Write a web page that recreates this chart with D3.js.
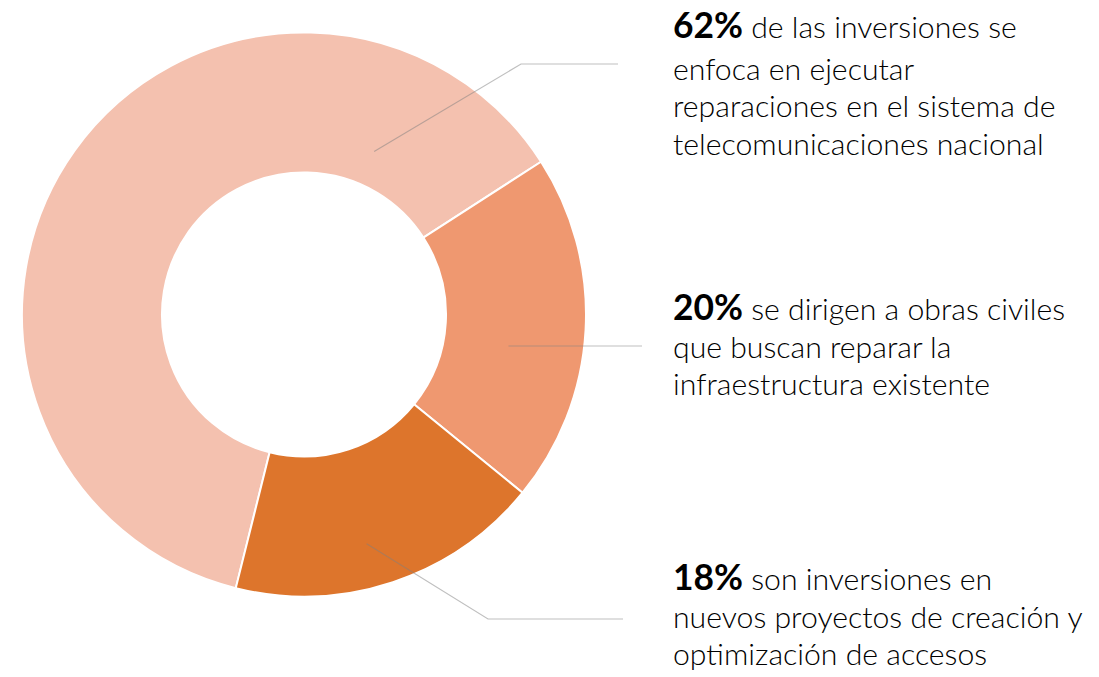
<!DOCTYPE html>
<html>
<head>
<meta charset="utf-8">
<script src="https://cdn.jsdelivr.net/npm/d3@7"></script>
<style>
  html, body { margin: 0; padding: 0; background: #ffffff; }
  svg { display: block; }
</style>
</head>
<body>
<svg id="chart" width="1099" height="677"></svg>
<script>
// ---- data ----
const categories = ["reparaciones", "obras civiles", "nuevos proyectos"];
const values = [62, 20, 18];
const percentLabels = ["62%", "20%", "18%"];
const descriptions = [
  ["de las inversiones se", "enfoca en ejecutar", "reparaciones en el sistema de", "telecomunicaciones nacional"],
  ["se dirigen a obras civiles", "que buscan reparar la", "infraestructura existente"],
  ["son inversiones en", "nuevos proyectos de creación y", "optimización de accesos"]
];
const colors = ["#F4C1AF", "#EF9870", "#DD752C"];

// ---- layout ----
const W = 1099, H = 677;
const cx = 304, cy = 314.5;
const outerR = 282, innerR = 142;
const deg = Math.PI / 180;
const startA = -166 * deg;

const svg = d3.select("#chart");
const g = svg.append("g").attr("transform", `translate(${cx},${cy})`);

const pie = d3.pie().sort(null).value(d => d).startAngle(startA).endAngle(startA + 2 * Math.PI);
const arc = d3.arc().innerRadius(innerR).outerRadius(outerR);
const arcs = pie(values);

g.selectAll("path.slice")
  .data(arcs)
  .join("path")
  .attr("class", "slice")
  .attr("d", arc)
  .attr("fill", (d, i) => colors[i])
  .attr("stroke", "#ffffff")
  .attr("stroke-width", 2)
  .attr("stroke-linejoin", "round");

// leader lines (anchor inside slice as fraction through slice span)
const anchorFrac = [0.848, 0.578, 0.548];
const anchorRad = [177.5, 207, 237.6];
const elbows = [[521, 64], null, [488, 619]];
const lineEndX = [618, 642, 623];
const lineY = [64, 346, 619];

const leaderData = arcs.map((a, i) => {
  const ang = a.startAngle + (a.endAngle - a.startAngle) * anchorFrac[i];
  const p = d3.pointRadial(ang, anchorRad[i]);
  const start = [cx + p[0], cy + p[1]];
  const pts = [start];
  if (elbows[i]) pts.push(elbows[i]); else pts[0] = [start[0], lineY[i]];
  pts.push([lineEndX[i], lineY[i]]);
  return pts;
});

svg.selectAll("path.leader")
  .data(leaderData)
  .join("path")
  .attr("class", "leader")
  .attr("d", d => d3.line()(d))
  .attr("fill", "none")
  .attr("stroke", "#808080")
  .attr("stroke-opacity", 0.5)
  .attr("stroke-width", 1.1);

// labels
const textX = 673;
const firstBaseline = [38, 320, 590];
const lineH = 37.5;
const font = "Lato, 'Open Sans', sans-serif";
const bodyWeight = 300, pctWeight = 700;

// fit body font size so a reference line matches its measured width
function measure(str, weight) {
  const t = svg.append("text").attr("font-family", font).attr("font-size", 100)
    .attr("font-weight", weight).text(str);
  const w = t.node().getComputedTextLength();
  t.remove();
  return w;
}
const bodySize = 100 * 371 / measure("telecomunicaciones nacional", bodyWeight);
const pctSize = 100 * 70 / measure("62%", pctWeight);

percentLabels.forEach((pl, i) => {
  const t = svg.append("text")
    .attr("x", textX)
    .attr("y", firstBaseline[i])
    .attr("font-family", font)
    .attr("fill", "#000");
  t.append("tspan")
    .attr("font-size", pctSize)
    .attr("font-weight", pctWeight)
    .text(pl);
  t.append("tspan")
    .attr("font-size", bodySize)
    .attr("font-weight", bodyWeight)
    .text(" " + descriptions[i][0]);
  descriptions[i].slice(1).forEach((line, j) => {
    svg.append("text")
      .attr("x", textX)
      .attr("y", firstBaseline[i] + lineH * (j + 1) + (i === 0 ? 4 : 0))
      .attr("font-family", font)
      .attr("font-size", bodySize)
      .attr("font-weight", bodyWeight)
      .attr("fill", "#000")
      .text(line);
  });
});
</script>
</body>
</html>
